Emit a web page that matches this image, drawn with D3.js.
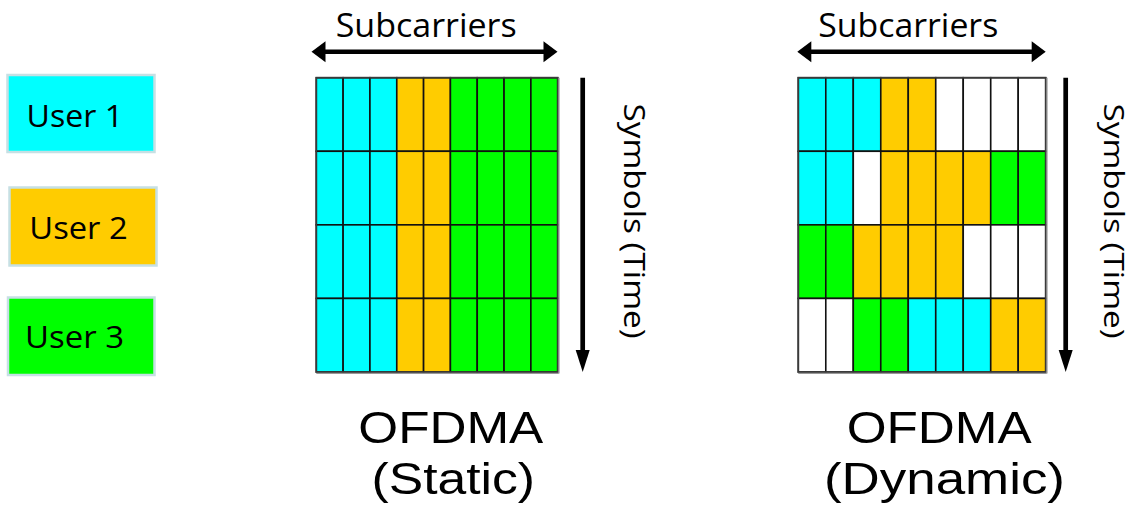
<!DOCTYPE html>
<html>
<head>
<meta charset="utf-8">
<script src="https://cdn.jsdelivr.net/npm/d3@7"></script>
<style>
  html, body { margin: 0; padding: 0; background: #ffffff; }
  svg { display: block; }
  text { font-family: "Open Sans", "Noto Sans", sans-serif; fill: #000; }
  text.title { font-family: "Liberation Sans", Arial, sans-serif; }
</style>
</head>
<body>
<svg id="chart" width="1133" height="515"></svg>
<script>
// ---------------- data ----------------
const users = ["User 1", "User 2", "User 3"];
const userColors = ["#00FFFF", "#FFCC00", "#00FF00"];
const subcarriers = [1, 2, 3, 4, 5, 6, 7, 8, 9];
const symbols = [1, 2, 3, 4];
// 0 = unused, 1..3 = user index
const staticAlloc = [
  [1, 1, 1, 2, 2, 3, 3, 3, 3],
  [1, 1, 1, 2, 2, 3, 3, 3, 3],
  [1, 1, 1, 2, 2, 3, 3, 3, 3],
  [1, 1, 1, 2, 2, 3, 3, 3, 3]
];
const dynamicAlloc = [
  [1, 1, 1, 2, 2, 0, 0, 0, 0],
  [1, 1, 0, 2, 2, 2, 2, 3, 3],
  [3, 3, 2, 2, 2, 2, 0, 0, 0],
  [0, 0, 3, 3, 1, 1, 1, 2, 2]
];
const panelTitles = [["OFDMA", "(Static)"], ["OFDMA", "(Dynamic)"]];
const xAxisLabel = "Subcarriers";
const yAxisLabel = "Symbols (Time)";

// ---------------- layout ----------------
const svg = d3.select("#chart");
const color = d3.scaleOrdinal().domain([1, 2, 3]).range(userColors);

// legend
const legendBoxes = [
  { x: 7.5, y: 75, w: 147, h: 77 },
  { x: 9.5, y: 187.5, w: 147, h: 78 },
  { x: 8, y: 297.5, w: 146.5, h: 77.5 }
];
const legendText = [
  { x: 26.5, y: 126.5, len: 96.5 },
  { x: 29.3, y: 239.3, len: 98.4 },
  { x: 25, y: 348.3, len: 99 }
];
const legend = svg.append("g");
users.forEach((u, i) => {
  const b = legendBoxes[i];
  legend.append("rect")
    .attr("x", b.x).attr("y", b.y).attr("width", b.w).attr("height", b.h)
    .attr("fill", userColors[i])
    .attr("stroke", "#c6e0e4").attr("stroke-width", 2.5);
  legend.append("text")
    .attr("x", legendText[i].x).attr("y", legendText[i].y)
    .attr("font-size", 31.5)
    .attr("textLength", legendText[i].len).attr("lengthAdjust", "spacingAndGlyphs")
    .text(u);
});

const panels = [
  { alloc: staticAlloc, x0: 316.3, x1: 557.7, vArrowX: 582.7, hArrow: [311.5, 557.5],
    subX: [335.7, 181], symX: 623.5, symSize: 29.5, titleC: [450.8, 185, 453.3, 163.5] },
  { alloc: dynamicAlloc, x0: 798.3, x1: 1045.7, vArrowX: 1065.7, hArrow: [797.3, 1045.7],
    subX: [818.3, 180], symX: 1104, symSize: 28, titleC: [939.2, 185, 944.5, 241] }
];
const gridTop = 77.7, gridBottom = 372;

panels.forEach((p, pi) => {
  const g = svg.append("g");
  const x = d3.scaleBand().domain(subcarriers).range([p.x0, p.x1]);
  const y = d3.scaleBand().domain(symbols).range([gridTop, gridBottom]);

  const cells = [];
  p.alloc.forEach((row, r) => row.forEach((u, c) => cells.push({ s: symbols[r], c: subcarriers[c], u })));

  g.selectAll("rect.cell").data(cells).join("rect")
    .attr("class", "cell")
    .attr("x", d => x(d.c)).attr("y", d => y(d.s))
    .attr("width", x.bandwidth()).attr("height", y.bandwidth())
    .attr("fill", d => d.u === 0 ? "#ffffff" : color(d.u))
    .attr("stroke", "#111").attr("stroke-width", 1.6);

  // outer frame (greyish edge)
  g.append("rect")
    .attr("x", p.x0).attr("y", gridTop)
    .attr("width", p.x1 - p.x0).attr("height", gridBottom - gridTop)
    .attr("fill", "none").attr("stroke", "#3a3a3a").attr("stroke-width", 1.6);
  g.append("line")
    .attr("x1", p.x0).attr("x2", p.x1 + 1)
    .attr("y1", gridBottom + 1.3).attr("y2", gridBottom + 1.3)
    .attr("stroke", "#999").attr("stroke-width", 1.2);
  g.append("line")
    .attr("x1", p.x1 + 1.3).attr("x2", p.x1 + 1.3)
    .attr("y1", gridTop).attr("y2", gridBottom + 1.5)
    .attr("stroke", "#999").attr("stroke-width", 1.2);

  // horizontal double arrow
  const ay = 51.8, hl = 14, hh = 10.5;
  const [ax0, ax1] = p.hArrow;
  g.append("line")
    .attr("x1", ax0 + hl - 1).attr("x2", ax1 - hl + 1)
    .attr("y1", ay).attr("y2", ay)
    .attr("stroke", "#000").attr("stroke-width", 4.5);
  g.append("path")
    .attr("d", `M${ax0},${ay} L${ax0 + hl},${ay - hh} L${ax0 + hl},${ay + hh} Z`)
    .attr("fill", "#000");
  g.append("path")
    .attr("d", `M${ax1},${ay} L${ax1 - hl},${ay - hh} L${ax1 - hl},${ay + hh} Z`)
    .attr("fill", "#000");

  g.append("text")
    .attr("x", p.subX[0]).attr("y", 36.7)
    .attr("font-size", 33)
    .attr("textLength", p.subX[1]).attr("lengthAdjust", "spacingAndGlyphs")
    .text(xAxisLabel);

  // vertical arrow
  const vx = p.vArrowX, vl = 22, vw = 7;
  g.append("line")
    .attr("x1", vx).attr("x2", vx)
    .attr("y1", gridTop).attr("y2", gridBottom - vl + 1)
    .attr("stroke", "#000").attr("stroke-width", 4.7);
  g.append("path")
    .attr("d", `M${vx},${gridBottom} L${vx - vw},${gridBottom - vl} L${vx + vw},${gridBottom - vl} Z`)
    .attr("fill", "#000");

  g.append("text")
    .attr("transform", `translate(${p.symX},103.5) rotate(90)`)
    .attr("font-size", p.symSize)
    .attr("textLength", 235).attr("lengthAdjust", "spacingAndGlyphs")
    .text(yAxisLabel);

  // titles
  const t = p.titleC;
  g.append("text")
    .attr("class", "title")
    .attr("x", t[0] - t[1] / 2).attr("y", 443)
    .attr("font-size", 45)
    .attr("textLength", t[1]).attr("lengthAdjust", "spacingAndGlyphs")
    .text(panelTitles[pi][0]);
  g.append("text")
    .attr("class", "title")
    .attr("x", t[2] - t[3] / 2).attr("y", 493.5)
    .attr("font-size", 45)
    .attr("textLength", t[3]).attr("lengthAdjust", "spacingAndGlyphs")
    .text(panelTitles[pi][1]);
});
</script>
</body>
</html>
